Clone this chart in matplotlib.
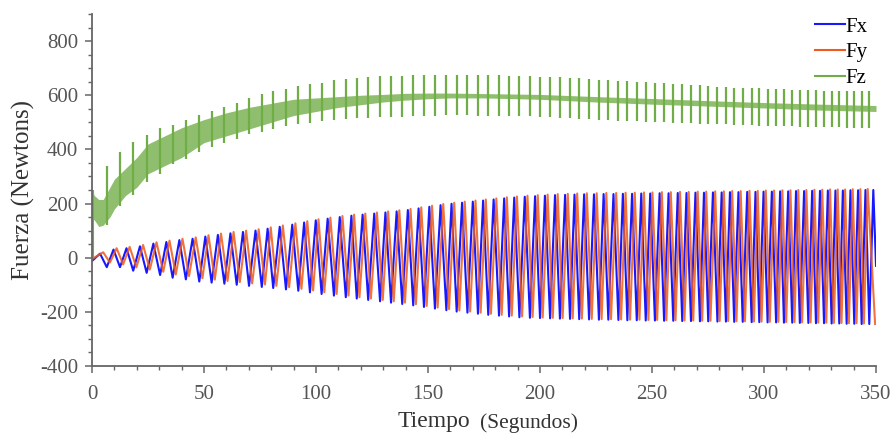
import numpy as np
import matplotlib
matplotlib.use('Agg')
import matplotlib.pyplot as plt
from matplotlib.lines import Line2D
from matplotlib.ticker import MultipleLocator

# tiempos (s) de cada ciclo: picos de Fz y valles de Fx
cycle_t = [6.6, 12.5, 18.4, 24.4, 30.4, 36.0, 41.9, 47.9, 53.4, 59.1,
           64.6, 70.1, 75.8, 80.9, 86.6, 92.1, 97.3, 102.5, 108.0, 113.3,
           118.2, 123.3, 128.6, 133.5, 138.5, 143.4, 148.2, 153.1, 158.2, 162.8,
           167.6, 172.3, 176.9, 181.7, 186.2, 190.8, 195.5, 200.0, 204.5, 208.9,
           213.4, 217.5, 221.9, 226.3, 230.5, 235.0, 239.0, 243.2, 247.2, 251.3,
           255.4, 259.5, 263.5, 267.4, 271.4, 275.1, 279.2, 283.0, 286.7, 290.5,
           294.5, 297.9, 301.6, 305.4, 308.9, 312.6, 316.0, 319.8, 323.2, 326.8,
           330.2, 333.6, 336.9, 340.3, 343.6, 347.0]

# Fx
fx_crest_t = [3.6, 9.6, 15.4, 21.4, 27.4, 33.2, 39.0, 44.9, 50.6, 56.2,
              61.8, 67.4, 73.0, 78.4, 83.8, 89.4, 94.7, 99.9, 105.2, 110.6,
              115.8, 120.8, 126.0, 131.0, 136.0, 141.0, 145.8, 150.6, 155.6, 160.5,
              165.2, 170.0, 174.6, 179.3, 184.0, 188.5, 193.2, 197.8, 202.2, 206.7,
              211.2, 215.4, 219.7, 224.1, 228.4, 232.8, 237.0, 241.1, 245.2, 249.2,
              253.4, 257.4, 261.5, 265.4, 269.4, 273.2, 277.2, 281.1, 284.8, 288.6,
              292.5, 296.2, 299.8, 303.5, 307.2, 310.8, 314.3, 317.9, 321.5, 325.0,
              328.5, 331.9, 335.2, 338.6, 342.0, 345.3, 348.8]
fx_crest_v = [15, 30, 35, 42, 52, 58, 65, 70, 78, 84,
              90, 95, 100, 107, 114, 122, 130, 138, 144, 150,
              155, 159, 163, 167, 171, 176, 182, 188, 194, 199,
              203, 207, 211, 215, 219, 222, 225, 227, 229, 231,
              232, 233, 234, 234, 235, 235, 236, 236, 237, 237,
              238, 238, 239, 239, 240, 240, 241, 241, 242, 242,
              243, 243, 244, 244, 245, 245, 246, 246, 247, 247,
              248, 248, 248, 249, 249, 250, 250]
fx_trough_v = [-35, -35, -48, -56, -64, -74, -80, -88, -92, -96,
               -100, -104, -108, -112, -117, -122, -128, -134, -140, -146,
               -151, -156, -161, -166, -171, -176, -182, -188, -194, -199,
               -203, -207, -211, -214, -217, -220, -222, -223, -224, -225,
               -226, -227, -228, -229, -229, -230, -231, -231, -232, -232,
               -233, -233, -234, -234, -235, -235, -236, -236, -237, -237,
               -238, -238, -239, -239, -240, -240, -241, -241, -242, -242,
               -243, -243, -244, -244, -245, -245]
fx_ends = [(0.0, -12), (350.0, -30)]

# Fy
fy_crest_t = [5.0, 11.0, 16.8, 22.8, 28.8, 34.6, 40.4, 46.3, 52.0, 57.6,
              63.2, 68.8, 74.4, 79.8, 85.2, 90.8, 96.1, 101.1, 106.4, 111.8,
              117.0, 122.0, 127.2, 132.2, 137.2, 142.2, 147.0, 151.8, 156.8, 161.7,
              166.4, 171.2, 175.8, 180.5, 185.2, 189.7, 194.4, 199.0, 203.4, 207.9,
              212.4, 216.6, 220.9, 225.3, 229.6, 234.0, 238.2, 242.3, 246.4, 250.2,
              254.4, 258.4, 262.5, 266.4, 270.4, 274.2, 278.2, 282.1, 285.8, 289.6,
              293.5, 297.2, 300.8, 304.5, 308.2, 311.8, 315.3, 318.9, 322.5, 326.0,
              329.5, 332.9, 336.2, 339.6, 343.0, 346.3]
fy_crest_v = [20, 35, 40, 47, 57, 63, 70, 75, 83, 89,
              95, 100, 105, 112, 119, 127, 135, 142, 148, 154,
              159, 163, 167, 171, 175, 180, 186, 192, 198, 203,
              207, 211, 215, 219, 223, 226, 229, 231, 233, 235,
              236, 237, 238, 238, 239, 239, 240, 240, 241, 241,
              242, 242, 243, 243, 244, 244, 245, 245, 246, 246,
              247, 247, 248, 248, 249, 249, 250, 250, 251, 251,
              252, 252, 252, 253, 253, 254]
fy_trough_t = [8.0, 13.9, 19.8, 25.8, 31.8, 37.4, 43.3, 49.3, 54.8, 60.5,
               66.0, 71.5, 77.2, 82.3, 88.0, 93.5, 98.7, 103.7, 109.2, 114.5,
               119.4, 124.5, 129.8, 134.7, 139.7, 144.6, 149.4, 154.3, 159.4, 164.0,
               168.8, 173.5, 178.1, 182.9, 187.4, 192.0, 196.7, 201.2, 205.7, 210.1,
               214.6, 218.7, 223.1, 227.5, 231.7, 236.2, 240.2, 244.4, 248.4, 252.3,
               256.4, 260.5, 264.5, 268.4, 272.4, 276.1, 280.2, 284.0, 287.7, 291.5,
               295.5, 298.9, 302.6, 306.4, 309.9, 313.6, 317.0, 320.8, 324.2, 327.8,
               331.2, 334.6, 337.9, 341.3, 344.6, 349.6]
fy_trough_v = [-18, -25, -36, -44, -52, -62, -68, -76, -81, -86,
               -90, -95, -99, -104, -109, -115, -121, -128, -134, -140,
               -146, -151, -156, -161, -166, -172, -178, -184, -190, -195,
               -199, -203, -207, -211, -214, -217, -219, -221, -222, -223,
               -224, -225, -226, -227, -227, -228, -229, -229, -230, -230,
               -231, -231, -232, -232, -233, -233, -234, -234, -235, -235,
               -236, -236, -237, -237, -238, -238, -239, -239, -240, -240,
               -241, -241, -242, -242, -243, -245]
fy_start = (0.0, -5)

# Fz: banda de vibracion + picos
fz_band_t = [0, 1, 3, 5, 8, 10, 15, 20, 25, 30, 40, 50, 60, 70, 80, 90, 100,
             110, 120, 130, 140, 150, 160, 175, 200, 225, 250, 275, 300, 325, 350]
fz_band_lo = [140, 140, 115, 120, 150, 180, 230, 260, 310, 330, 370, 425, 450, 475,
              500, 525, 540, 555, 565, 575, 582, 587, 590, 590, 585, 575, 567,
              560, 553, 545, 540]
fz_band_hi = [250, 230, 215, 215, 260, 290, 330, 370, 420, 440, 480, 510, 535, 555,
              570, 585, 590, 595, 600, 603, 607, 608, 608, 606, 603, 595, 588,
              580, 573, 567, 562]
fz_spike_top = [337, 392, 429, 454, 478, 491, 509, 528, 540, 558,
                571, 589, 604, 617, 622, 635, 642, 647, 657, 660,
                665, 669, 672, 672, 672, 675, 675, 675, 675, 675,
                675, 675, 674, 673, 672, 671, 670, 669, 668, 666,
                664, 662, 660, 658, 656, 654, 652, 650, 648, 646,
                644, 642, 640, 638, 636, 634, 632, 630, 628, 627,
                626, 625, 624, 623, 622, 621, 620, 619, 618, 617,
                616, 616, 615, 615, 614, 614]
fz_spike_bot = [120, 190, 230, 280, 310, 345, 365, 390, 410, 425,
                440, 455, 465, 475, 485, 492, 498, 503, 508, 512,
                515, 517, 519, 520, 521, 522, 523, 525, 527, 526,
                526, 525, 525, 524, 524, 523, 522, 521, 519, 517,
                515, 513, 511, 509, 507, 506, 505, 504, 502, 501,
                500, 499, 497, 496, 495, 494, 493, 492, 491, 490,
                489, 488, 487, 486, 486, 485, 484, 484, 483, 482,
                481, 481, 480, 480, 479, 478]
fz_start = (0.4, 0, 250)

c_fx = '#1818ff'
c_fy = '#ee5b1c'
c_fz = '#70ad47'

plt.rcParams['font.family'] = ['Liberation Serif', 'DejaVu Serif']
plt.rcParams['axes.unicode_minus'] = False

fig = plt.figure(figsize=(8.94, 4.41), dpi=100)
ax = fig.add_axes([92 / 894, 1 - 366 / 441, 784 / 894, 352 / 441])

# Fx
t = np.array([fx_ends[0][0]] + fx_crest_t + cycle_t + [fx_ends[1][0]])
v = np.array([fx_ends[0][1]] + fx_crest_v + fx_trough_v + [fx_ends[1][1]])
o = np.argsort(t)
ax.plot(t[o], v[o], color=c_fx, lw=1.5)

# Fy
t = np.array([fy_start[0]] + fy_crest_t + fy_trough_t)
v = np.array([fy_start[1]] + fy_crest_v + fy_trough_v)
o = np.argsort(t)
ax.plot(t[o], v[o], color=c_fy, lw=1.5, alpha=0.85)

# Fz
ax.fill_between(fz_band_t, fz_band_lo, fz_band_hi, color='#7cb455', lw=0, alpha=0.85)
ax.vlines(cycle_t, fz_spike_bot, fz_spike_top, color=c_fz, lw=1.6)
ax.vlines(fz_start[0], fz_start[1], fz_start[2], color=c_fz, lw=1.5)

ax.set_xlim(0, 350)
ax.set_ylim(-400, 900)
ax.set_yticks(range(-400, 801, 200))
ax.xaxis.set_major_locator(MultipleLocator(50))
ax.xaxis.set_minor_locator(MultipleLocator(10))
ax.yaxis.set_minor_locator(MultipleLocator(50))

for s in ['top', 'right']:
    ax.spines[s].set_visible(False)
for s in ['left', 'bottom']:
    ax.spines[s].set_color('#666666')
    ax.spines[s].set_linewidth(1.3)

ax.tick_params(which='major', length=5, width=1.1, color='#666666',
               labelsize=15, labelcolor='#555555')
ax.tick_params(which='minor', length=3, width=1.0, color='#666666')
ax.tick_params(axis='y', which='major', pad=5)
ax.tick_params(axis='x', which='major', pad=9)

fig.text(23 / 894, 1 - 190 / 441, 'Fuerza (Newtons)', rotation=90, ha='center',
         va='center', fontsize=18, color='#333333')
fig.text(398 / 894, 1 - 421 / 441, 'Tiempo', ha='left', va='center',
         fontsize=17, color='#333333')
fig.text(480 / 894, 1 - 423 / 441, '(Segundos)', ha='left', va='center',
         fontsize=15.5, color='#333333')

handles = [Line2D([], [], color=c_fx, lw=1.5),
           Line2D([], [], color=c_fy, lw=1.5),
           Line2D([], [], color=c_fz, lw=1.5)]
ax.legend(handles, ['Fx', 'Fy', 'Fz'], loc='upper right',
          bbox_to_anchor=(1.0, 1.015), frameon=False, fontsize=15,
          handlelength=1.4, handletextpad=0.05, labelspacing=0.3,
          borderaxespad=0)

fig.savefig('out.png', dpi=100)
